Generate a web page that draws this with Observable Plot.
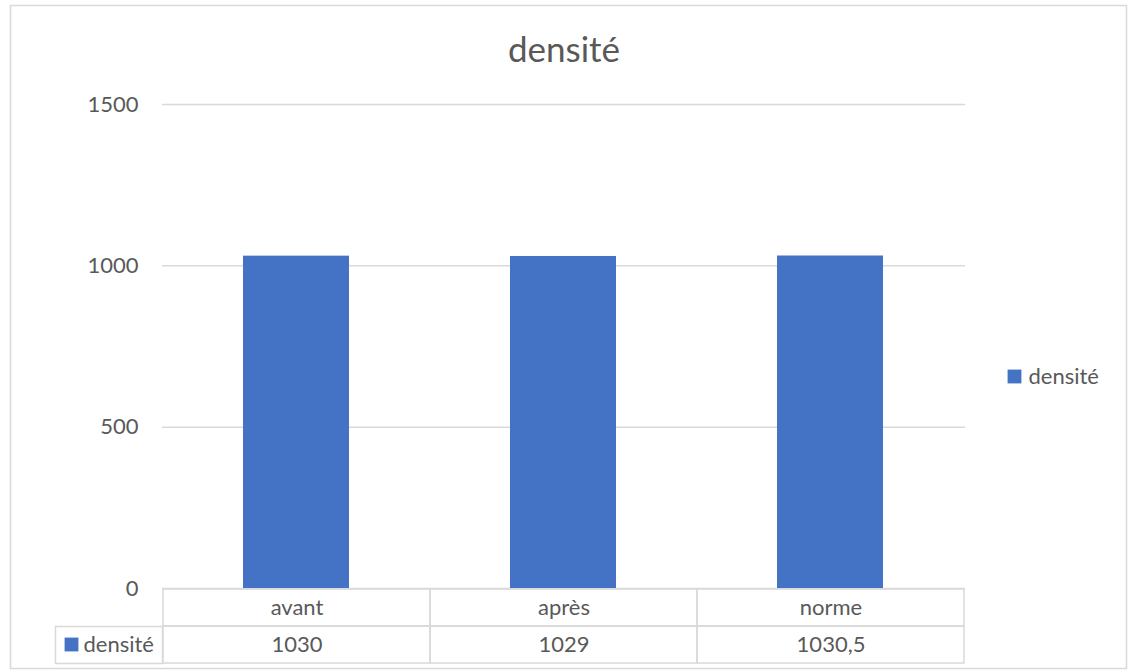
<!DOCTYPE html>
<html>
<head>
<meta charset="utf-8">
<script src="https://cdn.jsdelivr.net/npm/d3@7"></script>
<script src="https://cdn.jsdelivr.net/npm/@observablehq/plot@0.6"></script>
<style>
  html, body { margin: 0; padding: 0; background: #fff; }
</style>
</head>
<body>
<div id="chart"></div>
<script>
const title = "densité";
const seriesName = "densité";
const categories = ["avant", "après", "norme"];
const values = [1030, 1029, 1030.5];
const valueLabels = ["1030", "1029", "1030,5"];
const yTicks = [0, 500, 1000, 1500];

const data = categories.map((c, i) => ({cat: c, value: values[i], label: valueLabels[i]}));

const textColor = "#595959";
const gridColor = "#d9d9d9";
const barColor = "#4472C4";

const chart = Plot.plot({
  width: 1133,
  height: 672,
  marginLeft: 162,
  marginRight: 168,
  marginTop: 104,
  marginBottom: 84,
  style: {fontFamily: "Lato, 'Open Sans', sans-serif", fontSize: "22px", color: textColor, background: "#fff"},
  x: {domain: categories, padding: 0, axis: null},
  y: {domain: [0, 1500], axis: null},
  marks: [
    // outer chart border
    Plot.frame({stroke: gridColor, strokeWidth: 1.5, insetLeft: -152, insetTop: -99, insetRight: -161, insetBottom: -80}),
    Plot.gridY(yTicks, {stroke: gridColor, strokeOpacity: 1, strokeWidth: 1.5}),
    Plot.barY(data, {x: "cat", y: "value", fill: barColor, insetLeft: 80, insetRight: 81}),
    Plot.axisY(yTicks, {tickSize: 0, tickPadding: 24, label: null, tickFormat: d => String(d), fill: textColor, fontSize: 22}),
    // data table: header row and values row
    Plot.cell(categories, {x: d => d, fill: "none", stroke: gridColor, strokeWidth: 1.5, insetTop: 485, insetBottom: -38}),
    Plot.cell(categories, {x: d => d, fill: "none", stroke: gridColor, strokeWidth: 1.5, insetTop: 522, insetBottom: -75}),
    Plot.frame({stroke: gridColor, strokeWidth: 1.5, insetLeft: -107, insetRight: 803, insetTop: 522, insetBottom: -75}),
    Plot.text(data, {x: "cat", text: "cat", frameAnchor: "bottom", lineAnchor: "middle", dy: 19, fill: textColor, fontSize: 22}),
    Plot.text(data, {x: "cat", text: "label", frameAnchor: "bottom", lineAnchor: "middle", dy: 56, fill: textColor, fontSize: 22}),
    Plot.dot([seriesName], {frameAnchor: "bottom-left", dx: -91, dy: 56, symbol: "square", r: 7.8, fill: barColor, stroke: null}),
    Plot.text([seriesName], {frameAnchor: "bottom-left", lineAnchor: "middle", dx: -79, dy: 56, textAnchor: "start", fill: textColor, fontSize: 22}),
    // legend on the right
    Plot.dot([seriesName], {frameAnchor: "right", dx: 49, dy: 30, symbol: "square", r: 7.8, fill: barColor, stroke: null}),
    Plot.text([seriesName], {frameAnchor: "right", lineAnchor: "middle", dx: 63, dy: 30, textAnchor: "start", fill: textColor, fontSize: 22}),
    // title
    Plot.text([title], {frameAnchor: "top", lineAnchor: "middle", dy: -54, fill: textColor, fontSize: 35})
  ]
});
document.getElementById("chart").appendChild(chart);
</script>
</body>
</html>
